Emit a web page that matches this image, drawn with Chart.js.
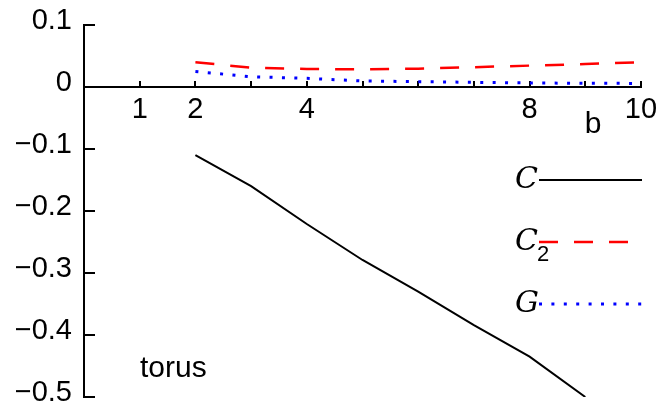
<!DOCTYPE html>
<html>
<head>
<meta charset="utf-8">
<script src="https://cdn.jsdelivr.net/npm/chart.js@4.4.1/dist/chart.umd.min.js"></script>
<style>
  html, body { margin: 0; padding: 0; background: #fff; }
  #wrap { width: 658px; height: 407px; }
</style>
</head>
<body>
<div id="wrap"><canvas id="chart" width="658" height="407"></canvas></div>
<script>
// Data
const bValues = [2, 3, 4, 5, 6, 7, 8, 9, 10];
const cValues = [-0.11, -0.16, -0.221, -0.279, -0.33, -0.384, -0.435, -0.5, null];
const c2Values = [0.040, 0.031, 0.029, 0.0285, 0.0295, 0.032, 0.0345, 0.037, 0.040];
const gValues = [0.025, 0.0165, 0.014, 0.0097, 0.0086, 0.0075, 0.0065, 0.006, 0.0058];

const seriesNames = ['C', 'C2', 'G'];

// Axis ticks
const xTickMarks = [1, 2, 3, 4, 5, 6, 7, 8, 9, 10];
const xTickLabels = [1, 2, 4, 8, 10];
const yTickValues = [-0.5, -0.4, -0.3, -0.2, -0.1, 0, 0.1];
const yTickLabels = ['\u22120.5', '\u22120.4', '\u22120.3', '\u22120.2', '\u22120.1', '0', '0.1'];

const FONT = 'Liberation Sans';

function toPoints(ys) {
    return bValues.map((b, i) => ({ x: b, y: ys[i] }));
}

// Legend on the right plus the loose texts ("b", "torus")
const extras = {
    id: 'extras',
    afterDatasetsDraw(chart) {
        const ctx = chart.ctx;
        const rows = [180, 242, 304];
        ctx.save();
        chart.data.datasets.forEach((ds, i) => {
            const y = rows[i];
            ctx.strokeStyle = ds.borderColor;
            ctx.lineWidth = ds.borderWidth;
            ctx.setLineDash(ds.borderDash || []);
            ctx.beginPath();
            ctx.moveTo(539, y);
            ctx.lineTo(642, y);
            ctx.stroke();

            const name = seriesNames[i];
            const main = name.replace(/\d+$/, '');
            const sub = name.slice(main.length);
            ctx.fillStyle = '#000';
            ctx.textBaseline = 'alphabetic';
            ctx.textAlign = 'left';
            ctx.font = 'italic 30px "DejaVu Serif"';
            ctx.fillText(main, 515, y + 8);
            if (sub) {
                ctx.font = '22px "' + FONT + '"';
                ctx.fillText(sub, 537, y + 19);
            }
        });
        ctx.setLineDash([]);
        ctx.fillStyle = '#000';
        ctx.font = '30px "' + FONT + '"';
        ctx.textAlign = 'center';
        ctx.fillText('b', 593, 133);
        ctx.textAlign = 'left';
        ctx.fillText('torus', 140, 377);
        ctx.restore();
    }
};

new Chart(document.getElementById('chart'), {
    type: 'line',
    data: {
        datasets: [
            {
                label: seriesNames[0],
                data: toPoints(cValues),
                borderColor: '#000000',
                borderWidth: 2
            },
            {
                label: seriesNames[1],
                data: toPoints(c2Values),
                borderColor: '#ff0000',
                borderWidth: 2.5,
                borderDash: [19, 16]
            },
            {
                label: seriesNames[2],
                data: toPoints(gValues),
                borderColor: '#0000ff',
                borderWidth: 3,
                borderDash: [3, 9.4]
            }
        ]
    },
    options: {
        responsive: false,
        animation: false,
        events: [],
        layout: { padding: { left: 0, top: 25, right: 17, bottom: 10 } },
        elements: {
            point: { radius: 0 },
            line: { tension: 0, fill: false, borderCapStyle: 'butt' }
        },
        plugins: {
            legend: { display: false },
            tooltip: { enabled: false }
        },
        scales: {
            x: {
                type: 'linear',
                min: 0,
                max: 10,
                position: { y: 0 },
                afterBuildTicks: s => { s.ticks = xTickMarks.map(v => ({ value: v })); },
                afterFit: s => { s.paddingLeft = 0; s.paddingRight = 0; s.paddingTop = 0; s.paddingBottom = 0; },
                border: { color: '#000', width: 2 },
                grid: { drawOnChartArea: false, tickLength: -7, color: '#000', lineWidth: 2 },
                ticks: {
                    autoSkip: false,
                    maxRotation: 0,
                    padding: 13,
                    color: '#000',
                    font: { family: FONT, size: 29 },
                    callback: v => xTickLabels.includes(v) ? String(v) : ''
                }
            },
            y: {
                type: 'linear',
                min: -0.5,
                max: 0.1,
                afterBuildTicks: s => { s.ticks = yTickValues.map(v => ({ value: v })); },
                afterFit: s => { s.width = 84; s.paddingTop = 0; s.paddingBottom = 0; },
                border: { color: '#000', width: 2 },
                grid: { drawOnChartArea: false, tickLength: -11, color: '#000', lineWidth: 2 },
                ticks: {
                    autoSkip: false,
                    padding: 23,
                    labelOffset: -4,
                    color: '#000',
                    font: { family: FONT, size: 29 },
                    callback: (v, i) => yTickLabels[i]
                }
            }
        }
    },
    plugins: [extras]
});
</script>
</body>
</html>
